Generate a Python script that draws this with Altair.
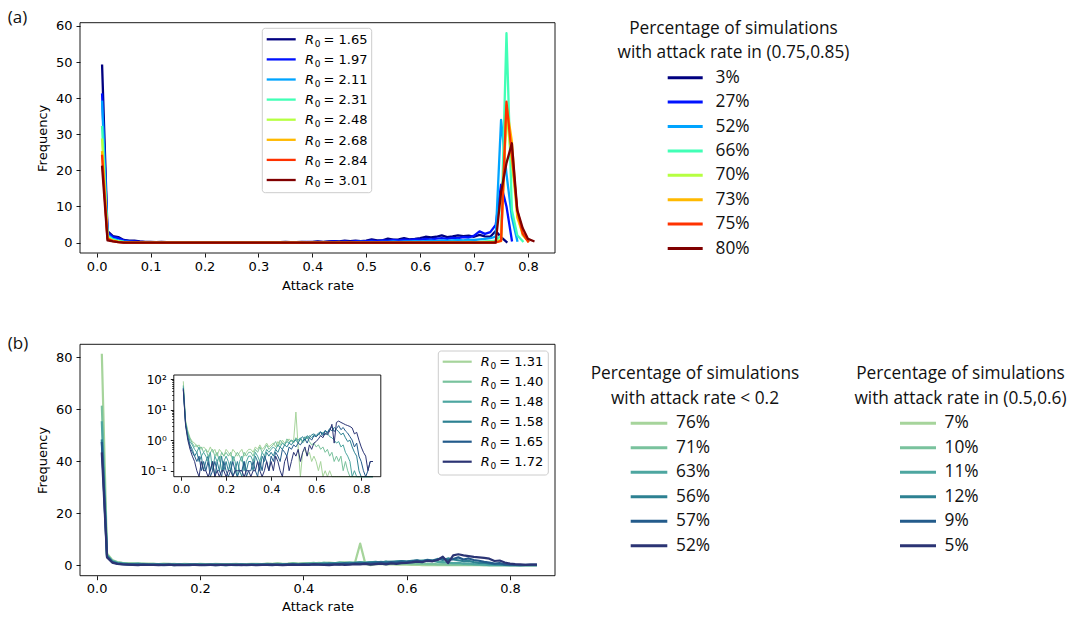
import altair as alt
import pandas as pd

# ------------------------------------------------------------------ data
# Bin positions of the attack-rate histograms
RATE_A = [round(0.01 * k, 2) for k in range(1, 82)]
RATE_B = [round(0.01 * k, 2) for k in range(1, 86)]

# Panel (a): higher transmissibility
R0_A = ["1.65", "1.97", "2.11", "2.31", "2.48", "2.68", "2.84", "3.01"]
SHARE_A = [3, 27, 52, 66, 70, 73, 75, 80]
COLORS_A = ["#000080", "#0012ff", "#00a4ff", "#41ffb6",
            "#b6ff41", "#ffb900", "#ff3200", "#800000"]

FREQ_A_165 = [
    49.0, 3.2, 1.8, 1.5, 0.7, 0.5, 0.5, 0.3, 0.2, 0.2,
    0.1, 0.2, 0.1, 0.1, 0.0, 0.1, 0.1, 0.0, 0.1, 0.1,
    0.1, 0.0, 0.1, 0.1, 0.0, 0.1, 0.0, 0.1, 0.1, 0.0,
    0.1, 0.1, 0.0, 0.1, 0.2, 0.1, 0.1, 0.2, 0.1, 0.2,
    0.3, 0.2, 0.3, 0.4, 0.3, 0.5, 0.4, 0.5, 0.4, 0.5,
    0.9, 0.6, 0.6, 1.1, 0.8, 0.9, 1.2, 0.9, 1.0, 1.2,
    1.6, 1.4, 1.6, 2.0, 1.5, 1.7, 2.0, 1.8, 1.9, 1.6,
    2.1, 1.7, 1.6, 3.2, 1.5, 0.2,
]
FREQ_A_197 = [
    41.0, 2.8, 1.5, 1.2, 0.6, 0.4, 0.3, 0.2, 0.1, 0.1,
    0.1, 0.1, 0.0, 0.1, 0.1, 0.0, 0.1, 0.0, 0.1, 0.0,
    0.0, 0.1, 0.0, 0.1, 0.0, 0.0, 0.1, 0.0, 0.1, 0.0,
    0.1, 0.0, 0.1, 0.1, 0.0, 0.1, 0.1, 0.1, 0.2, 0.1,
    0.2, 0.1, 0.2, 0.3, 0.2, 0.3, 0.2, 0.4, 0.3, 0.4,
    0.5, 0.4, 0.6, 0.5, 0.7, 0.6, 0.8, 0.7, 0.9, 0.8,
    1.0, 0.9, 1.1, 1.2, 1.0, 1.3, 1.2, 1.5, 1.4, 1.9,
    3.1, 2.4, 2.9, 4.9, 16.0, 10.0, 0.6,
]
FREQ_A_211 = [
    39.0, 2.2, 1.0, 0.6, 0.3, 0.2, 0.1, 0.1, 0.1, 0.0,
    0.0, 0.1, 0.0, 0.0, 0.0, 0.1, 0.0, 0.0, 0.0, 0.0,
    0.0, 0.0, 0.1, 0.0, 0.0, 0.0, 0.0, 0.1, 0.0, 0.0,
    0.0, 0.0, 0.0, 0.1, 0.0, 0.0, 0.1, 0.0, 0.0, 0.1,
    0.0, 0.1, 0.0, 0.1, 0.1, 0.0, 0.1, 0.1, 0.2, 0.1,
    0.2, 0.1, 0.2, 0.2, 0.3, 0.2, 0.3, 0.3, 0.4, 0.3,
    0.4, 0.5, 0.4, 0.6, 0.5, 0.6, 0.7, 0.6, 0.8, 0.7,
    0.9, 1.0, 1.2, 1.6, 34.0, 19.0, 7.0, 0.5,
]
FREQ_A_231 = [
    32.0, 1.8, 0.8, 0.4, 0.2, 0.1, 0.1, 0.0, 0.0, 0.0,
    0.0, 0.0, 0.0, 0.0, 0.0, 0.0, 0.0, 0.0, 0.0, 0.0,
    0.0, 0.0, 0.0, 0.0, 0.0, 0.0, 0.0, 0.0, 0.0, 0.0,
    0.0, 0.0, 0.0, 0.0, 0.0, 0.0, 0.0, 0.0, 0.0, 0.0,
    0.0, 0.0, 0.0, 0.0, 0.1, 0.0, 0.0, 0.0, 0.0, 0.0,
    0.0, 0.0, 0.1, 0.0, 0.0, 0.0, 0.1, 0.0, 0.0, 0.1,
    0.1, 0.0, 0.1, 0.1, 0.1, 0.2, 0.1, 0.2, 0.2, 0.1,
    0.2, 0.3, 0.4, 0.5, 2.0, 58.0, 9.0, 2.0, 0.4,
]
FREQ_A_248 = [
    28.5, 1.5, 0.6, 0.3, 0.1, 0.1, 0.0, 0.0, 0.0, 0.0,
    0.0, 0.0, 0.0, 0.0, 0.0, 0.0, 0.0, 0.0, 0.0, 0.0,
    0.0, 0.0, 0.0, 0.0, 0.0, 0.0, 0.0, 0.0, 0.0, 0.0,
    0.0, 0.0, 0.0, 0.0, 0.0, 0.0, 0.0, 0.0, 0.0, 0.0,
    0.0, 0.0, 0.0, 0.0, 0.0, 0.0, 0.0, 0.0, 0.0, 0.0,
    0.0, 0.0, 0.0, 0.0, 0.0, 0.0, 0.0, 0.1, 0.0, 0.0,
    0.0, 0.0, 0.1, 0.0, 0.0, 0.1, 0.0, 0.0, 0.1, 0.0,
    0.1, 0.1, 0.2, 0.2, 1.0, 36.0, 22.0, 8.0, 2.0, 0.4,
]
FREQ_A_268 = [
    25.0, 1.2, 0.5, 0.2, 0.1, 0.0, 0.0, 0.0, 0.0, 0.0,
    0.0, 0.0, 0.0, 0.0, 0.0, 0.0, 0.0, 0.0, 0.0, 0.0,
    0.0, 0.0, 0.0, 0.0, 0.0, 0.0, 0.0, 0.0, 0.0, 0.0,
    0.0, 0.0, 0.0, 0.0, 0.0, 0.0, 0.0, 0.0, 0.0, 0.0,
    0.0, 0.0, 0.0, 0.0, 0.0, 0.0, 0.0, 0.0, 0.0, 0.0,
    0.0, 0.0, 0.0, 0.0, 0.0, 0.0, 0.0, 0.0, 0.0, 0.0,
    0.0, 0.0, 0.0, 0.1, 0.0, 0.0, 0.0, 0.0, 0.1, 0.0,
    0.0, 0.1, 0.1, 0.1, 0.4, 38.0, 28.0, 7.0, 2.5, 0.4,
]
FREQ_A_284 = [
    24.0, 1.0, 0.4, 0.1, 0.0, 0.0, 0.0, 0.0, 0.0, 0.0,
    0.0, 0.0, 0.0, 0.0, 0.0, 0.0, 0.0, 0.0, 0.0, 0.0,
    0.0, 0.0, 0.0, 0.0, 0.0, 0.0, 0.0, 0.0, 0.0, 0.0,
    0.0, 0.0, 0.0, 0.0, 0.0, 0.0, 0.0, 0.0, 0.0, 0.0,
    0.0, 0.0, 0.0, 0.0, 0.0, 0.0, 0.0, 0.0, 0.0, 0.0,
    0.0, 0.0, 0.0, 0.0, 0.0, 0.0, 0.0, 0.0, 0.0, 0.0,
    0.0, 0.0, 0.0, 0.0, 0.0, 0.0, 0.0, 0.0, 0.0, 0.0,
    0.0, 0.0, 0.0, 0.0, 0.5, 39.0, 24.0, 9.0, 2.5, 0.3,
]
FREQ_A_301 = [
    21.0, 0.6, 0.3, 0.1, 0.0, 0.0, 0.0, 0.0, 0.0, 0.0,
    0.0, 0.0, 0.0, 0.0, 0.0, 0.0, 0.0, 0.0, 0.0, 0.0,
    0.0, 0.0, 0.0, 0.0, 0.0, 0.0, 0.0, 0.0, 0.0, 0.0,
    0.0, 0.0, 0.0, 0.0, 0.0, 0.0, 0.0, 0.0, 0.0, 0.0,
    0.0, 0.0, 0.0, 0.0, 0.0, 0.0, 0.0, 0.0, 0.0, 0.0,
    0.0, 0.0, 0.0, 0.0, 0.0, 0.0, 0.0, 0.0, 0.0, 0.0,
    0.0, 0.0, 0.0, 0.0, 0.0, 0.0, 0.0, 0.0, 0.0, 0.0,
    0.0, 0.0, 0.0, 0.0, 14.0, 22.0, 27.5, 9.0, 4.0, 1.0, 0.4,
]
FREQ_A = [FREQ_A_165, FREQ_A_197, FREQ_A_211, FREQ_A_231,
          FREQ_A_248, FREQ_A_268, FREQ_A_284, FREQ_A_301]

# Panel (b): lower transmissibility
R0_B = ["1.31", "1.40", "1.48", "1.58", "1.65", "1.72"]
SHARE_LOW_B = [76, 71, 63, 56, 57, 52]
SHARE_MID_B = [7, 10, 11, 12, 9, 5]
COLORS_B = ["#a6d49b", "#79c29d", "#4da6a0", "#2d8192", "#235b8b", "#2b3474"]

FREQ_B_131 = [
    81.0, 4.5, 2.0, 1.2, 0.9, 0.8, 0.6, 0.7, 0.5, 0.6,
    0.5, 0.4, 0.6, 0.4, 0.5, 0.3, 0.5, 0.4, 0.3, 0.5,
    0.4, 0.3, 0.5, 0.4, 0.3, 0.4, 0.5, 0.3, 0.4, 0.5,
    0.5, 0.4, 0.6, 0.5, 0.7, 0.5, 0.6, 0.8, 0.6, 0.7,
    0.8, 0.6, 0.9, 0.7, 1.0, 0.8, 0.9, 1.1, 0.9, 1.0,
    8.3, 0.6, 0.0, 0.4, 0.5, 0.3, 0.4, 0.2, 0.3, 0.2,
    0.1, 0.2, 0.0, 0.1, 0.0, 0.1, 0.0, 0.0, 0.0, 0.0,
    0.0, 0.0, 0.0, 0.0, 0.0, 0.0, 0.0, 0.0, 0.0, 0.0,
    0.0, 0.0, 0.0, 0.0, 0.0,
]
FREQ_B_140 = [
    61.0, 4.0, 1.8, 1.1, 0.8, 0.6, 0.7, 0.5, 0.6, 0.4,
    0.5, 0.3, 0.4, 0.5, 0.3, 0.4, 0.2, 0.4, 0.3, 0.4,
    0.3, 0.4, 0.2, 0.3, 0.4, 0.3, 0.2, 0.4, 0.3, 0.4,
    0.4, 0.3, 0.5, 0.4, 0.6, 0.4, 0.5, 0.7, 0.5, 0.6,
    0.7, 0.9, 0.6, 1.0, 0.8, 0.7, 1.1, 0.9, 1.0, 0.8,
    1.2, 0.9, 1.1, 0.8, 1.0, 1.3, 0.9, 0.7, 0.8, 0.6,
    0.7, 0.5, 0.6, 0.4, 0.5, 0.3, 0.4, 0.2, 0.3, 0.2,
    0.3, 0.1, 0.2, 0.1, 0.0, 0.0, 0.0, 0.0, 0.0, 0.0,
    0.0, 0.0, 0.0, 0.0, 0.0,
]
FREQ_B_148 = [
    55.0, 3.8, 1.6, 0.9, 0.7, 0.5, 0.4, 0.6, 0.3, 0.4,
    0.3, 0.2, 0.4, 0.1, 0.3, 0.2, 0.3, 0.1, 0.2, 0.3,
    0.2, 0.1, 0.3, 0.2, 0.0, 0.2, 0.3, 0.1, 0.2, 0.3,
    0.3, 0.2, 0.4, 0.3, 0.2, 0.4, 0.3, 0.5, 0.4, 0.5,
    0.6, 0.5, 0.7, 0.6, 0.8, 0.7, 0.9, 0.8, 1.0, 0.9,
    1.1, 1.0, 1.2, 0.9, 1.3, 1.1, 1.4, 1.2, 1.5, 1.3,
    1.6, 1.4, 1.8, 1.5, 1.7, 1.3, 1.2, 1.0, 0.8, 0.9,
    0.6, 0.7, 0.4, 0.3, 0.2, 0.0, 0.1, 0.0, 0.0, 0.0,
    0.0, 0.0, 0.0, 0.0, 0.0,
]
FREQ_B_158 = [
    48.0, 3.5, 1.3, 0.7, 0.5, 0.3, 0.4, 0.2, 0.3, 0.1,
    0.2, 0.3, 0.1, 0.2, 0.0, 0.2, 0.1, 0.3, 0.1, 0.2,
    0.1, 0.2, 0.0, 0.1, 0.2, 0.1, 0.0, 0.2, 0.1, 0.2,
    0.2, 0.1, 0.3, 0.2, 0.1, 0.3, 0.2, 0.4, 0.3, 0.4,
    0.3, 0.5, 0.4, 0.6, 0.5, 0.7, 0.6, 0.8, 0.7, 0.9,
    1.0, 0.8, 1.1, 1.3, 1.0, 1.4, 1.2, 1.5, 1.6, 1.4,
    1.7, 1.9, 1.6, 2.1, 1.8, 2.4, 2.0, 2.6, 2.2, 1.9,
    1.5, 1.7, 1.2, 0.9, 1.0, 0.6, 0.4, 0.3, 0.1, 0.0,
    0.0, 0.0, 0.0, 0.0, 0.0,
]
FREQ_B_165 = [
    47.0, 3.3, 1.2, 0.6, 0.4, 0.3, 0.2, 0.3, 0.1, 0.2,
    0.1, 0.2, 0.0, 0.1, 0.2, 0.1, 0.1, 0.0, 0.2, 0.1,
    0.0, 0.1, 0.2, 0.1, 0.0, 0.1, 0.1, 0.2, 0.0, 0.1,
    0.1, 0.2, 0.1, 0.0, 0.2, 0.1, 0.3, 0.2, 0.1, 0.3,
    0.2, 0.4, 0.3, 0.2, 0.5, 0.4, 0.3, 0.6, 0.5, 0.7,
    0.6, 0.8, 0.7, 0.9, 1.1, 0.8, 1.2, 1.0, 1.4, 1.3,
    1.5, 1.8, 1.4, 2.0, 1.7, 2.2, 2.8, 1.9, 2.4, 3.0,
    2.2, 2.6, 2.0, 1.7, 1.3, 1.0, 0.6, 0.8, 0.3, 0.2,
    0.1, 0.0, 0.1, 0.2, 0.2,
]
FREQ_B_172 = [
    43.0, 3.0, 1.0, 0.5, 0.3, 0.2, 0.1, 0.0, 0.2, 0.1,
    0.1, 0.0, 0.1, 0.2, 0.0, 0.1, 0.0, 0.1, 0.1, 0.0,
    0.1, 0.1, 0.0, 0.1, 0.1, 0.1, 0.1, 0.0, 0.1, 0.1,
    0.0, 0.1, 0.1, 0.2, 0.1, 0.0, 0.1, 0.2, 0.1, 0.2,
    0.1, 0.3, 0.2, 0.1, 0.0, 0.2, 0.3, 0.1, 0.2, 0.4,
    0.3, 0.5, 0.2, 0.4, 0.6, 0.3, 0.7, 0.5, 0.8, 0.9,
    1.1, 1.4, 1.2, 1.7, 1.5, 2.0, 3.3, 0.8, 3.8, 4.2,
    3.8, 3.5, 3.2, 3.0, 2.8, 2.5, 1.6, 1.8, 1.0, 0.6,
    0.4, 0.3, 0.1, 0.2, 0.2,
]
FREQ_B = [FREQ_B_131, FREQ_B_140, FREQ_B_148, FREQ_B_158, FREQ_B_165, FREQ_B_172]

# Tick values
X_TICKS_A = [0.0, 0.1, 0.2, 0.3, 0.4, 0.5, 0.6, 0.7, 0.8]
Y_TICKS_A = [0, 10, 20, 30, 40, 50, 60]
X_TICKS_B = [0.0, 0.2, 0.4, 0.6, 0.8]
Y_TICKS_B = [0, 20, 40, 60, 80]
Y_TICKS_INSET = [0.1, 1, 10, 100]
Y_MINOR_INSET = [0.2, 0.3, 0.4, 0.5, 0.6, 0.7, 0.8, 0.9,
                 2, 3, 4, 5, 6, 7, 8, 9,
                 20, 30, 40, 50, 60, 70, 80, 90]

# ---------------------------------------------------------------- layout
W, H = 1077, 619
MPL_FONT = "DejaVu Sans"
SIDE_FONT = "Open Sans"
SIDE_SIZE = 17.3
TICK_SIZE = 13
LEGEND_SIZE = 13

PANEL_A = dict(left=80.0, right=555.0, top=22.7, bottom=253.0,
               xdom=(-0.031, 0.850), ydom=(-2.9, 60.9))
PANEL_B = dict(left=80.0, right=555.0, top=344.3, bottom=575.7,
               xdom=(-0.0323, 0.8871), ydom=(-4.05, 85.05))
INSET = dict(left=173.8, right=380.8, top=375.0, bottom=476.7,
             xdom=(-0.0323, 0.8871), ydom=(0.0637, 135.2))

ONE = pd.DataFrame({"k": [0]})
NBSP = "\u00a0"


def pct(v):
    return f"{v:2d}%".replace(" ", NBSP)


def lin(domain, rng):
    return alt.Scale(type="linear", domain=list(domain), range=list(rng),
                     zero=False, nice=False)


def xscale(p):
    return lin(p["xdom"], (p["left"], p["right"]))


def yscale(p, log=False):
    if log:
        return alt.Scale(type="log", domain=list(p["ydom"]),
                         range=[p["bottom"], p["top"]], nice=False, clamp=True)
    return lin(p["ydom"], (p["bottom"], p["top"]))


AX_COMMON = dict(domain=False, grid=False, ticks=True, tickColor="black",
                 tickWidth=0.9, labelFont=MPL_FONT, labelColor="black",
                 labelFlush=False, labelOverlap=False, titleFont=MPL_FONT,
                 titleFontSize=13, titleFontWeight="normal", titleColor="black")


def bottom_axis(p, values, label_size, title="", title_y=0.0, tick=4):
    return alt.Axis(orient="bottom", offset=p["bottom"] - H, values=values,
                    format=".1f", tickSize=tick, labelPadding=3,
                    labelFontSize=label_size, title=title,
                    titleX=(p["left"] + p["right"]) / 2, titleY=title_y,
                    titleAlign="center", titleBaseline="middle", titleAngle=0,
                    **AX_COMMON)


def left_axis(p, values, label_size, title="", title_x=0.0, fmt="d",
              label_expr="", tick=4, labels=True):
    kw = dict(orient="left", offset=-p["left"], values=values,
              tickSize=tick, labelPadding=4, labelFontSize=label_size,
              labels=labels, title=title, titleX=title_x - p["left"],
              titleY=(p["top"] + p["bottom"]) / 2, titleAlign="center",
              titleBaseline="middle", titleAngle=270, **AX_COMMON)
    if label_expr:
        kw["labelExpr"] = label_expr
    else:
        kw["format"] = fmt
    return alt.Axis(**kw)


def line_layer(rates, values, color, p, width, x_axis=None, y_axis=None, log=False):
    df = pd.DataFrame({"rate": rates[:len(values)], "freq": values})
    base = alt.Chart(df).mark_line(color=color, strokeWidth=width,
                                   strokeJoin="round", strokeCap="square")
    field = "freq"
    if log:
        # empty bins sit below the log axis: pin them to its floor
        base = base.transform_calculate(shown="max(datum.freq, 0.001)")
        field = "shown"
    return base.encode(
        x=alt.X("rate:Q", scale=xscale(p), axis=x_axis),
        y=alt.Y(f"{field}:Q", scale=yscale(p, log), axis=y_axis),
    )


def frame_layer(p, log=False, fill="transparent", stroke="black", y_axis=None):
    return alt.Chart(ONE).mark_rect(fill=fill, stroke=stroke, strokeWidth=0.9).encode(
        x=alt.XDatum(p["xdom"][0], scale=xscale(p), axis=None),
        x2=alt.X2Datum(p["xdom"][1]),
        y=alt.YDatum(p["ydom"][0], scale=yscale(p, log), axis=y_axis),
        y2=alt.Y2Datum(p["ydom"][1]),
    )


def inplot_legend(names, colors, box, row0, step, s0, s1, text_x, width):
    n = len(names)
    df = pd.DataFrame({"row": list(range(n)), "color": colors,
                       "rest": ["= " + v for v in names]})
    xs = lin((0, 1), (s0, s1))
    ys = lin((0, n - 1), (row0, row0 + step * (n - 1)))

    def ux(px):
        return (px - s0) / (s1 - s0)

    def uy(py):
        return (py - row0) / step

    frame = alt.Chart(ONE).mark_rect(fill="white", fillOpacity=0.8, stroke="#cccccc",
                                     strokeWidth=1, cornerRadius=3).encode(
        x=alt.XDatum(ux(box[0]), scale=xs, axis=None), x2=alt.X2Datum(ux(box[1])),
        y=alt.YDatum(uy(box[2]), scale=ys, axis=None), y2=alt.Y2Datum(uy(box[3])))
    y_enc = alt.Y("row:Q", scale=ys, axis=None)
    x_end = alt.XDatum(1, scale=xs, axis=None)
    handles = alt.Chart(df).mark_rule(strokeWidth=width).encode(
        x=alt.XDatum(0, scale=xs, axis=None), x2=alt.X2Datum(1), y=y_enc,
        color=alt.Color("color:N", scale=None))
    gap = text_x - s1
    txt = dict(font=MPL_FONT, align="left", baseline="alphabetic", color="black")
    sym = alt.Chart(df).mark_text(text="R", fontSize=LEGEND_SIZE, fontStyle="italic",
                                  dx=gap, dy=4.7, **txt).encode(x=x_end, y=y_enc)
    sub = alt.Chart(df).mark_text(text="0", fontSize=9, dx=gap + 9.8, dy=7.4,
                                  **txt).encode(x=x_end, y=y_enc)
    rest = alt.Chart(df).mark_text(fontSize=LEGEND_SIZE, dx=gap + 18.5, dy=4.7,
                                   **txt).encode(x=x_end, y=y_enc, text="rest:N")
    return [frame, handles, sym, sub, rest]


def side_legend(title_lines, labels, colors, cx, row0, step, s0, s1, text_x):
    n = len(labels)
    df = pd.DataFrame({"row": list(range(n)), "color": colors, "label": labels})
    heads = pd.DataFrame({"row": [-2, -1], "label": title_lines})
    xs = lin((0, 1), (s0, s1))
    ys = lin((0, n - 1), (row0, row0 + step * (n - 1)))
    txt = dict(font=SIDE_FONT, fontSize=SIDE_SIZE, baseline="middle", color="#111111")
    title = alt.Chart(heads).mark_text(align="center", dx=cx - s0, **txt).encode(
        x=alt.XDatum(0, scale=xs, axis=None),
        y=alt.Y("row:Q", scale=ys, axis=None), text="label:N")
    handles = alt.Chart(df).mark_rule(strokeWidth=3).encode(
        x=alt.XDatum(0, scale=xs, axis=None), x2=alt.X2Datum(1),
        y=alt.Y("row:Q", scale=ys, axis=None),
        color=alt.Color("color:N", scale=None))
    texts = alt.Chart(df).mark_text(align="left", dx=text_x - s1, **txt).encode(
        x=alt.XDatum(1, scale=xs, axis=None),
        y=alt.Y("row:Q", scale=ys, axis=None), text="label:N")
    return [title, handles, texts]


def panel_tag(tag, p, cx, cy):
    return alt.Chart(ONE).mark_text(text=tag, font=SIDE_FONT, fontSize=17,
                                    align="center", baseline="middle", color="#111111",
                                    dx=cx - p["left"], dy=cy - p["top"]).encode(
        x=alt.XDatum(p["xdom"][0], scale=xscale(p), axis=None),
        y=alt.YDatum(p["ydom"][1], scale=yscale(p), axis=None))


# ---------------------------------------------------------------- layers
layers = []

# panel (a)
for i, (vals, col) in enumerate(zip(FREQ_A, COLORS_A)):
    layers.append(line_layer(
        RATE_A, vals, col, PANEL_A, 2.3,
        x_axis=bottom_axis(PANEL_A, X_TICKS_A, TICK_SIZE, "Attack rate", 32.7) if i == 0 else None,
        y_axis=left_axis(PANEL_A, Y_TICKS_A, TICK_SIZE, "Frequency", 42.7) if i == 0 else None))
layers.append(frame_layer(PANEL_A))
layers += inplot_legend(R0_A, COLORS_A, (262.3, 371.7, 28.3, 192.7),
                        39.3, 20.1, 266.7, 295.7, 305.0, 2.3)

# panel (b)
for i, (vals, col) in enumerate(zip(FREQ_B, COLORS_B)):
    layers.append(line_layer(
        RATE_B, vals, col, PANEL_B, 2.2,
        x_axis=bottom_axis(PANEL_B, X_TICKS_B, TICK_SIZE, "Attack rate", 31.0) if i == 0 else None,
        y_axis=left_axis(PANEL_B, Y_TICKS_B, TICK_SIZE, "Frequency", 42.7) if i == 0 else None))
layers.append(frame_layer(PANEL_B))

# inset of panel (b), log frequency
layers.append(frame_layer(INSET, log=True, fill="white", stroke="transparent"))
SUPERSCRIPTS = ("datum.value >= 50 ? '10\u00b2' : datum.value >= 5 ? '10\u00b9' : "
                "datum.value >= 0.5 ? '10\u2070' : '10\u207b\u00b9'")
for i, (vals, col) in enumerate(zip(FREQ_B, COLORS_B)):
    layers.append(line_layer(
        RATE_B, vals, col, INSET, 1.0, log=True,
        x_axis=bottom_axis(INSET, X_TICKS_B, 11, tick=3.5) if i == 0 else None,
        y_axis=left_axis(INSET, Y_TICKS_INSET, 12, label_expr=SUPERSCRIPTS,
                         tick=3.5) if i == 0 else None))
layers.append(frame_layer(INSET, log=True,
                          y_axis=left_axis(INSET, Y_MINOR_INSET, 11, tick=2,
                                           labels=False)))
layers += inplot_legend(R0_B, COLORS_B, (438.3, 548.3, 351.0, 475.0),
                        361.7, 20.0, 442.7, 471.7, 480.7, 2.2)

# legends on the right
layers += side_legend(["Percentage of simulations", "with attack rate in (0.75,0.85)"],
                      [pct(v) for v in SHARE_A], COLORS_A,
                      733.5, 77.7, 24.4, 667.7, 702.7, 715.5)
layers += side_legend(["Percentage of simulations", "with attack rate < 0.2"],
                      [pct(v) for v in SHARE_LOW_B], COLORS_B,
                      695.0, 423.3, 24.5, 630.7, 667.3, 676.0)
layers += side_legend(["Percentage of simulations", "with attack rate in (0.5,0.6)"],
                      [pct(v) for v in SHARE_MID_B], COLORS_B,
                      960.5, 423.3, 24.5, 900.0, 936.0, 944.5)

layers.append(panel_tag("(a)", PANEL_A, 17.5, 17.5))
layers.append(panel_tag("(b)", PANEL_B, 18.0, 343.5))

chart = (
    alt.layer(*layers)
    .resolve_scale(x="independent", y="independent", color="independent")
    .resolve_axis(x="independent", y="independent")
    .properties(width=W, height=H, padding=0, background="white",
                autosize=alt.AutoSizeParams(type="none"))
    .configure_view(strokeWidth=0)
)

chart.save("out.html", embed_options={"renderer": "svg", "actions": False})
